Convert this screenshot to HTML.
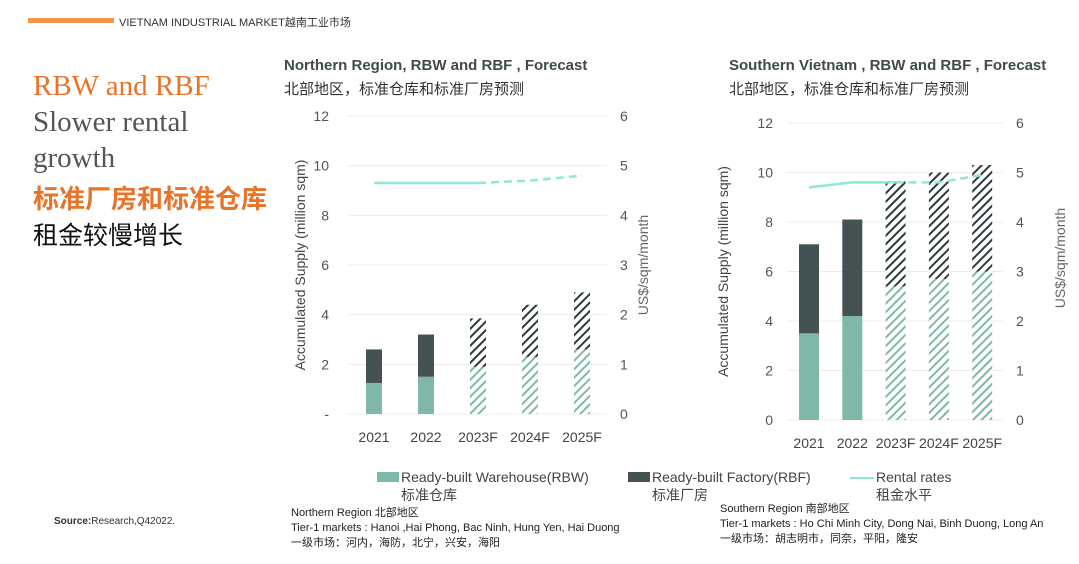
<!DOCTYPE html>
<html><head><meta charset="utf-8">
<style>
body{margin:0;width:1079px;height:564px;background:#fff;position:relative;overflow:hidden;font-family:"Liberation Sans","Noto Sans CJK SC",sans-serif;color:#3f4a4c}
.a{position:absolute;white-space:nowrap}
.serif{font-family:"Liberation Serif","Noto Serif CJK SC",serif}
</style></head><body>
<div class="a" style="left:28px;top:18px;width:86px;height:5px;background:#f39848"></div>
<div class="a" style="left:119px;top:14px;font-size:11px;color:#333">VIETNAM INDUSTRIAL MARKET越南工业市场</div>
<div class="a serif" style="left:33px;top:70px;font-size:29px;color:#e8742a">RBW and RBF</div>
<div class="a serif" style="left:33px;top:106px;font-size:29px;color:#555">Slower rental</div>
<div class="a serif" style="left:33px;top:142px;font-size:29px;color:#555">growth</div>
<div class="a" style="left:33px;top:179px;font-size:26px;font-weight:bold;color:#e8742a">标准厂房和标准仓库</div>
<div class="a" style="left:33px;top:216px;font-size:25px;color:#111">租金较慢增长</div>
<div class="a" style="left:54px;top:516px;font-size:10px;color:#333"><b>Source:</b>Research,Q42022.</div>

<div class="a" style="left:284px;top:57px;font-size:15px;font-weight:bold;color:#3f4a4c">Northern Region, RBW and RBF , Forecast</div>
<div class="a" style="left:284px;top:78px;font-size:15px;color:#333">北部地区，标准仓库和标准厂房预测</div>
<div class="a" style="left:729px;top:57px;font-size:15px;font-weight:bold;color:#3f4a4c">Southern Vietnam , RBW and RBF , Forecast</div>
<div class="a" style="left:729px;top:78px;font-size:15px;color:#333">北部地区，标准仓库和标准厂房预测</div>

<svg id="ch" class="a" style="left:0;top:0" width="1079" height="564">
<defs>
<pattern id="hg" width="6" height="6" patternUnits="userSpaceOnUse" patternTransform="rotate(45)"><rect width="6" height="6" fill="#fff"/><rect width="2" height="6" fill="#7fb8a8"/></pattern>
<pattern id="hd" width="6" height="6" patternUnits="userSpaceOnUse" patternTransform="rotate(45)"><rect width="6" height="6" fill="#fff"/><rect width="2" height="6" fill="#2f3a3c"/></pattern>
</defs>
</svg>

<div class="a" style="left:377px;top:469px;font-size:14px;color:#444"><span style="display:inline-block;width:22px;height:10px;background:#7fb8a8;margin-right:2px"></span>Ready-built Warehouse(RBW)<br><span style="padding-left:24px">标准仓库</span></div>
<div class="a" style="left:628px;top:469px;font-size:14px;color:#444"><span style="display:inline-block;width:22px;height:10px;background:#455254;margin-right:2px"></span>Ready-built Factory(RBF)<br><span style="padding-left:24px">标准厂房</span></div>
<div class="a" style="left:850px;top:469px;font-size:14px;color:#444"><span style="display:inline-block;width:24px;height:2px;background:#8de8d8;vertical-align:middle;margin-right:2px"></span>Rental rates<br><span style="padding-left:26px">租金水平</span></div>
<div class="a" style="left:291px;top:506px;font-size:11px;line-height:15px;color:#222">Northern Region 北部地区<br>Tier-1 markets : Hanoi ,Hai Phong, Bac Ninh, Hung Yen, Hai Duong<br>一级市场：河内，海防，北宁，兴安，海阳</div>
<div class="a" style="left:720px;top:502px;font-size:11px;line-height:15px;color:#222">Southern Region 南部地区<br>Tier-1 markets : Ho Chi Minh City, Dong Nai, Binh Duong, Long An<br>一级市场：胡志明市，同奈，平阳，隆安</div>

<script>
const categories=["2021","2022","2023F","2024F","2025F"];
const northRBW=[1.25,1.5,1.9,2.3,2.6];
const northTotal=[2.6,3.2,3.85,4.4,4.9];
const northRent=[4.65,4.65,4.65,4.7,4.8];
const southRBW=[3.5,4.2,5.4,5.7,6.0];
const southTotal=[7.1,8.1,9.65,10.0,10.3];
const southRent=[4.7,4.8,4.8,4.8,4.95];
const forecastFrom=2;
const leftTicks=["-","2","4","6","8","10","12"];
const leftTicksS=["0","2","4","6","8","10","12"];
const rightTicks=["0","1","2","3","4","5","6"];

const NS="http://www.w3.org/2000/svg";
const svg=document.getElementById('ch');
function mk(t,a,p){const e=document.createElementNS(NS,t);for(const k in a)e.setAttribute(k,a[k]);(p||svg).appendChild(e);return e;}

function chart(cfg,rbw,tot,rent,lt,name){
  const g=mk('g',{});
  
  
  const y=v=>cfg.y0-(cfg.y0-cfg.y12)*v/12;
  const yr=v=>y(v*2);
  const x=i=>cfg.x0+cfg.step*i;
  for(let i=0;i<7;i++){
    const gl=mk('line',{x1:cfg.gx1,x2:cfg.gx2,y1:y(i*2),y2:y(i*2),stroke:'#ececec','stroke-width':1},g);
    
    
    const t=mk('text',{x:cfg.lx,y:y(i*2)+5,'text-anchor':'end','font-size':14,fill:'#555'},g);t.textContent=lt[i];
    
    
    const r=mk('text',{x:cfg.rx,y:y(i*2)+5,'font-size':14,fill:'#555'},g);r.textContent=rightTicks[i];
    
    
  }
  categories.forEach((c,i)=>{
    const f=i>=forecastFrom;
    const b1=mk('rect',{x:x(i)-cfg.bw/2,y:y(rbw[i]),width:cfg.bw,height:y(0)-y(rbw[i]),fill:f?'url(#hg)':'#7fb8a8'},g);
    
    
    const b2=mk('rect',{x:x(i)-cfg.bw/2,y:y(tot[i]),width:cfg.bw,height:y(rbw[i])-y(tot[i]),fill:f?'url(#hd)':'#455254'},g);
    
    
    const t=mk('text',{x:x(i),y:cfg.y0+28,'text-anchor':'middle','font-size':14,fill:'#444'},g);t.textContent=c;
    
    
  });
  const pts=rent.map((v,i)=>x(i)+','+yr(v));
  const l1=mk('polyline',{points:pts.slice(0,forecastFrom+1).join(' '),fill:'none',stroke:'#8de8d8','stroke-width':2.5},g);
  
  
  const l2=mk('polyline',{points:pts.slice(forecastFrom).join(' '),fill:'none',stroke:'#8de8d8','stroke-width':2.5,'stroke-dasharray':'8,5'},g);
  
  
  const ya=mk('text',{transform:`translate(${cfg.ytx},${(cfg.y0+cfg.y12)/2}) rotate(-90)`,'text-anchor':'middle','font-size':14,fill:'#444'},g);
  ya.textContent='Accumulated Supply (million sqm)';
  
  
  const yb=mk('text',{transform:`translate(${cfg.rtx},${cfg.rty}) rotate(-90)`,'text-anchor':'middle','font-size':14,fill:'#666'},g);
  yb.textContent='US$/sqm/month';
  
  
}
chart({y0:414,y12:116,x0:374,step:52,bw:16,gx1:348,gx2:607,lx:329,rx:620,ytx:305,rtx:648,rty:265},northRBW,northTotal,northRent,leftTicks,'north-chart');
chart({y0:420,y12:123,x0:809,step:43.3,bw:20,gx1:787,gx2:1003,lx:773,rx:1016,ytx:728,rtx:1065,rty:258},southRBW,southTotal,southRent,leftTicksS,'south-chart');
</script>
</body></html>
